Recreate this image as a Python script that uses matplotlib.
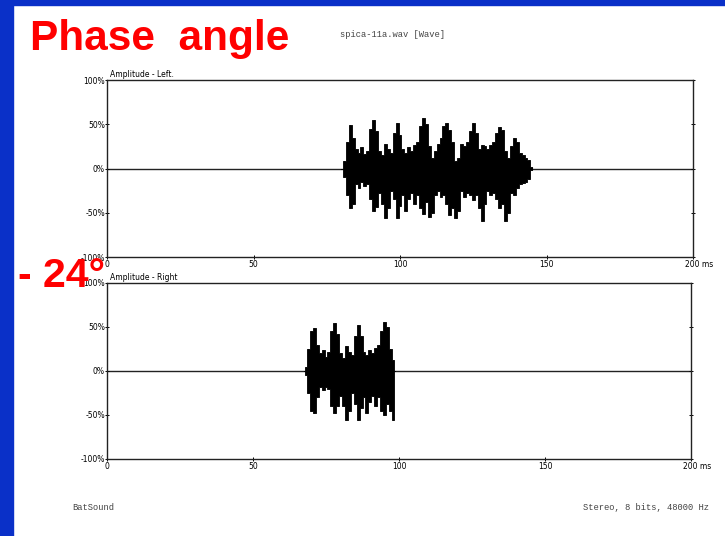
import matplotlib
matplotlib.use("Agg")
import matplotlib.pyplot as plt
import matplotlib.transforms as mtransforms
import numpy as np

# ---- data (envelope of each channel, % full scale) ----
left_t = [80, 81, 82, 83, 84, 85, 86, 87, 88, 89, 90, 91, 92, 93, 94, 95, 96,
          97, 98, 99, 100, 101, 102, 103, 104, 105, 106, 107, 108, 109, 110,
          111, 112, 113, 114, 115, 116, 117, 118, 119, 120, 121, 122, 123, 124,
          125, 126, 127, 128, 129, 130, 131, 132, 133, 134, 135, 136, 137, 138,
          139, 140, 141, 142, 143, 144, 145]
left_hi = [0, 8, 30, 49, 35, 22, 18, 24, 16, 20, 45, 55, 42, 20, 15, 28, 22,
           18, 40, 51, 38, 22, 18, 24, 20, 26, 30, 48, 57, 50, 25,
           12, 20, 28, 35, 48, 51, 44, 30, 8, 12, 28, 25, 30, 42,
           51, 40, 22, 26, 25, 22, 26, 30, 40, 47, 44, 20, 12, 25,
           35, 30, 18, 15, 12, 10, 2]
left_lo = [0, -10, -30, -45, -40, -18, -22, -15, -20, -18, -35, -48, -44, -28,
           -40, -56, -45, -25, -35, -56, -42, -30, -48, -35, -28, -40, -30,
           -45, -51, -38, -55, -50, -30, -25, -32, -30, -40, -52, -45, -56,
           -48, -25, -32, -28, -30, -36, -30, -45, -59, -40, -25, -30, -28,
           -35, -45, -40, -59, -50, -28, -30, -22, -18, -16, -15, -12, -2]

right_t = [67.5, 68, 69, 70, 71, 72, 73, 74, 75, 76, 77, 78, 79, 80, 81, 82,
           83, 84, 85, 86, 87, 88, 89, 90, 91, 92, 93, 94, 95, 96, 97, 98, 98.5]
right_hi = [0, 4, 25, 45, 49, 30, 20, 24, 16, 22, 45, 55, 42, 20, 15, 28,
            22, 18, 40, 52, 40, 22, 18, 24, 20, 26, 30, 45, 56, 50, 25, 12, 0]
right_lo = [0, -5, -25, -45, -48, -30, -18, -22, -18, -20, -40, -48, -40, -28,
            -40, -56, -45, -25, -38, -56, -42, -30, -48, -35, -28, -40, -30,
            -45, -50, -38, -45, -56, 0]

x_ticks = [0, 50, 100, 150, 200]
x_labels = ["0", "50", "100", "150", "200 ms"]
y_ticks = [-100, -50, 0, 50, 100]
y_labels = ["-100%", "-50%", "0%", "50%", "100%"]

RED = "#ff0000"
BLUE = "#0a30c8"
INK = "#222222"

fig = plt.figure(figsize=(7.25, 5.36), dpi=100)
fig.patch.set_facecolor("white")

# blue slide frame
fig.patches.append(plt.Rectangle((0, 0), 13 / 725, 1, transform=fig.transFigure,
                                 color=BLUE, zorder=0))
fig.patches.append(plt.Rectangle((0, 1 - 5 / 536), 1, 5 / 536,
                                 transform=fig.transFigure, color=BLUE, zorder=0))


def panel(rect, t, hi, lo, title):
    ax = fig.add_axes(rect)
    ax.fill_between(t, lo, hi, step="mid", color="black", lw=0.6,
                    edgecolor="black")
    ax.vlines(t, lo, hi, color="black", lw=0.8)
    ax.axhline(0, color=INK, lw=1.0, zorder=0)
    ax.set_xlim(0, 200)
    ax.set_ylim(-100, 100)
    ax.set_xticks(x_ticks)
    ax.set_xticklabels(x_labels)
    ax.set_yticks(y_ticks)
    ax.set_yticklabels(y_labels)
    ax.tick_params(axis="both", labelsize=5.5, length=3, width=0.7,
                   direction="inout", pad=1, colors="black")
    ax.tick_params(axis="y", right=True, pad=0)
    for s in ax.spines.values():
        s.set_linewidth(1.0)
        s.set_color(INK)
    lab = ax.get_xticklabels()[-1]
    lab.set_horizontalalignment("left")
    lab.set_transform(lab.get_transform() +
                      mtransforms.ScaledTranslation(-8 / 100, 0, fig.dpi_scale_trans))
    ax.text(0.005, 1.004, title, transform=ax.transAxes, fontsize=5.5,
            va="bottom", ha="left")
    return ax


panel([107 / 725, 1 - 257 / 536, 586 / 725, 177 / 536],
      left_t, left_hi, left_lo, "Amplitude - Left.")
panel([107 / 725, 1 - 459 / 536, 584 / 725, 176 / 536],
      right_t, right_hi, right_lo, "Amplitude - Right")

fig.text(30 / 725, 1 - 50 / 536, "Phase  angle", color=RED, fontsize=30.5,
         fontweight="bold", family="Liberation Sans", va="baseline", zorder=5)
fig.text(18 / 725, 1 - 287 / 536, "- 24°", color=RED, fontsize=29.5,
         fontweight="bold", family="Liberation Sans", va="baseline", zorder=5)
fig.text(340 / 725, 1 - 37 / 536, "spica-11a.wav [Wave]", fontsize=6.3,
         family="Liberation Mono", color="#444444")
fig.text(72 / 725, 1 - 510 / 536, "BatSound", fontsize=6.3,
         family="Liberation Mono", color="#444444")
fig.text(583 / 725, 1 - 510 / 536, "Stereo, 8 bits, 48000 Hz", fontsize=6.3,
         family="Liberation Mono", color="#444444")

fig.savefig("out.png", dpi=100)
